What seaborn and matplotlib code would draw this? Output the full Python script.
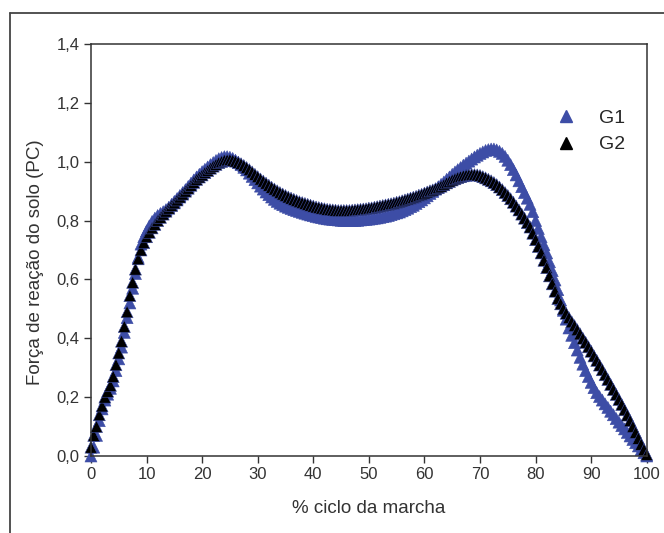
import numpy as np
import pandas as pd
import matplotlib
matplotlib.use("Agg")
import matplotlib.pyplot as plt
import seaborn as sns
from matplotlib.lines import Line2D

# % do ciclo da marcha (passo de 0,5)
ciclo = np.arange(0, 100.5, 0.5)

# Força de reação do solo (PC) - G1
g1 = [
    0.000, 0.030, 0.070, 0.120, 0.160, 0.190, 0.210, 0.230, 0.255, 0.290,
    0.330, 0.370, 0.420, 0.470, 0.520, 0.570, 0.620, 0.675, 0.720, 0.745,
    0.765, 0.782, 0.797, 0.808, 0.817, 0.824, 0.830, 0.837, 0.845, 0.855,
    0.865, 0.875, 0.885, 0.895, 0.905, 0.916, 0.927, 0.938, 0.948, 0.957,
    0.966, 0.974, 0.982, 0.990, 0.997, 1.004, 1.010, 1.014, 1.017, 1.017,
    1.015, 1.011, 1.005, 0.998, 0.990, 0.981, 0.972, 0.961, 0.950, 0.939,
    0.928, 0.917, 0.907, 0.897, 0.888, 0.880, 0.872, 0.865, 0.859, 0.854,
    0.849, 0.845, 0.841, 0.837, 0.834, 0.831, 0.828, 0.825, 0.822, 0.819,
    0.817, 0.814, 0.812, 0.810, 0.808, 0.806, 0.805, 0.804, 0.803, 0.802,
    0.801, 0.800, 0.800, 0.800, 0.800, 0.800, 0.801, 0.802, 0.803, 0.804,
    0.805, 0.806, 0.808, 0.809, 0.811, 0.813, 0.815, 0.817, 0.820, 0.823,
    0.826, 0.829, 0.833, 0.837, 0.842, 0.847, 0.852, 0.858, 0.864, 0.870,
    0.877, 0.884, 0.892, 0.899, 0.907, 0.915, 0.923, 0.931, 0.940, 0.948,
    0.957, 0.965, 0.973, 0.980, 0.988, 0.995, 1.002, 1.009, 1.016, 1.022,
    1.028, 1.033, 1.038, 1.041, 1.043, 1.043, 1.040, 1.035, 1.028, 1.018,
    1.005, 0.990, 0.973, 0.955, 0.935, 0.915, 0.895, 0.876, 0.855, 0.830,
    0.800, 0.773, 0.745, 0.718, 0.690, 0.660, 0.630, 0.598, 0.565, 0.530,
    0.495, 0.465, 0.435, 0.410, 0.385, 0.360, 0.335, 0.312, 0.290, 0.270,
    0.250, 0.232, 0.215, 0.202, 0.190, 0.177, 0.165, 0.152, 0.140, 0.127,
    0.115, 0.103, 0.092, 0.080, 0.068, 0.056, 0.045, 0.034, 0.022, 0.011,
    0.000,
]

# Força de reação do solo (PC) - G2
g2 = [
    0.030, 0.070, 0.100, 0.140, 0.170, 0.200, 0.220, 0.240, 0.270, 0.310,
    0.350, 0.390, 0.440, 0.490, 0.545, 0.590, 0.635, 0.670, 0.700, 0.725,
    0.745, 0.760, 0.775, 0.787, 0.800, 0.811, 0.822, 0.832, 0.842, 0.851,
    0.860, 0.870, 0.880, 0.890, 0.900, 0.910, 0.920, 0.930, 0.940, 0.948,
    0.955, 0.963, 0.970, 0.978, 0.985, 0.991, 0.997, 1.001, 1.005, 1.006,
    1.007, 1.005, 1.002, 0.998, 0.993, 0.987, 0.980, 0.973, 0.965, 0.957,
    0.949, 0.941, 0.934, 0.927, 0.920, 0.913, 0.907, 0.901, 0.895, 0.890,
    0.885, 0.880, 0.876, 0.872, 0.868, 0.864, 0.861, 0.858, 0.855, 0.852,
    0.849, 0.846, 0.844, 0.842, 0.840, 0.838, 0.837, 0.836, 0.835, 0.834,
    0.834, 0.834, 0.834, 0.834, 0.835, 0.836, 0.837, 0.838, 0.839, 0.840,
    0.842, 0.843, 0.845, 0.847, 0.849, 0.851, 0.853, 0.855, 0.857, 0.859,
    0.862, 0.864, 0.867, 0.870, 0.873, 0.876, 0.879, 0.882, 0.886, 0.889,
    0.893, 0.897, 0.901, 0.904, 0.908, 0.912, 0.917, 0.922, 0.928, 0.933,
    0.938, 0.942, 0.946, 0.949, 0.952, 0.954, 0.955, 0.956, 0.956, 0.955,
    0.953, 0.949, 0.945, 0.940, 0.935, 0.929, 0.922, 0.914, 0.905, 0.895,
    0.885, 0.874, 0.862, 0.849, 0.836, 0.822, 0.808, 0.793, 0.778, 0.757,
    0.735, 0.712, 0.690, 0.665, 0.640, 0.612, 0.585, 0.560, 0.535, 0.517,
    0.500, 0.485, 0.470, 0.456, 0.443, 0.429, 0.415, 0.400, 0.386, 0.371,
    0.356, 0.340, 0.325, 0.309, 0.293, 0.276, 0.260, 0.243, 0.226, 0.209,
    0.192, 0.175, 0.157, 0.139, 0.120, 0.100, 0.080, 0.060, 0.040, 0.022,
    0.005,
]

grupos = ["G1", "G2"]
cores = {"G1": "#3d4da6", "G2": "#000000"}

x_ticks = [0, 10, 20, 30, 40, 50, 60, 70, 80, 90, 100]
y_ticks = [0.0, 0.2, 0.4, 0.6, 0.8, 1.0, 1.2, 1.4]
y_tick_labels = ["0,0", "0,2", "0,4", "0,6", "0,8", "1,0", "1,2", "1,4"]

df = pd.concat([
    pd.DataFrame({"ciclo": ciclo, "forca": g1, "grupo": "G1"}),
    pd.DataFrame({"ciclo": ciclo, "forca": g2, "grupo": "G2"}),
], ignore_index=True)

sns.set_style("ticks")
plt.rcParams["font.family"] = ["Liberation Sans", "DejaVu Sans"]
cinza = "#333333"

fig = plt.figure(figsize=(6.64, 5.33), dpi=100)
ax = fig.add_axes([0.137, 0.1445, 0.837, 0.773])

sns.scatterplot(data=df, x="ciclo", y="forca", hue="grupo", hue_order=grupos,
                palette=cores, marker="^", s=75, linewidth=0.4,
                edgecolor=None, legend=False, ax=ax, clip_on=False)
# borda da cor de cada ponto
for col, g in zip(ax.collections, grupos):
    col.set_edgecolor(cores[g])

ax.set_xlim(0, 100)
ax.set_ylim(0, 1.4)
ax.set_xticks(x_ticks)
ax.set_yticks(y_ticks)
ax.set_yticklabels(y_tick_labels)
ax.tick_params(direction="out", length=5, width=1, colors=cinza,
               labelsize=12, labelcolor=cinza, pad=3)
for sp in ax.spines.values():
    sp.set_color(cinza)
    sp.set_linewidth(1.1)

ax.set_xlabel("% ciclo da marcha", fontsize=13.5, color=cinza)
ax.set_ylabel("Força de reação do solo (PC)", fontsize=13.5, color=cinza)
ax.xaxis.set_label_coords(0.5, -0.107)
ax.yaxis.set_label_coords(-0.085, 0.47)

handles = [Line2D([], [], linestyle="", marker="^", markersize=9,
                  color=cores[g]) for g in grupos]
ax.legend(handles, grupos, loc="upper left", bbox_to_anchor=(0.82, 0.86),
          frameon=False, fontsize=14, handlelength=1.2, handletextpad=1.1,
          labelspacing=0.45, borderaxespad=0)

# moldura externa da figura
fig.add_artist(Line2D([0.015, 0.015], [0.0, 0.9756], transform=fig.transFigure,
                      color="#444444", linewidth=1.3))
fig.add_artist(Line2D([0.015, 1.0], [0.9756, 0.9756], transform=fig.transFigure,
                      color="#444444", linewidth=1.3))

fig.savefig("out.png", dpi=100)
